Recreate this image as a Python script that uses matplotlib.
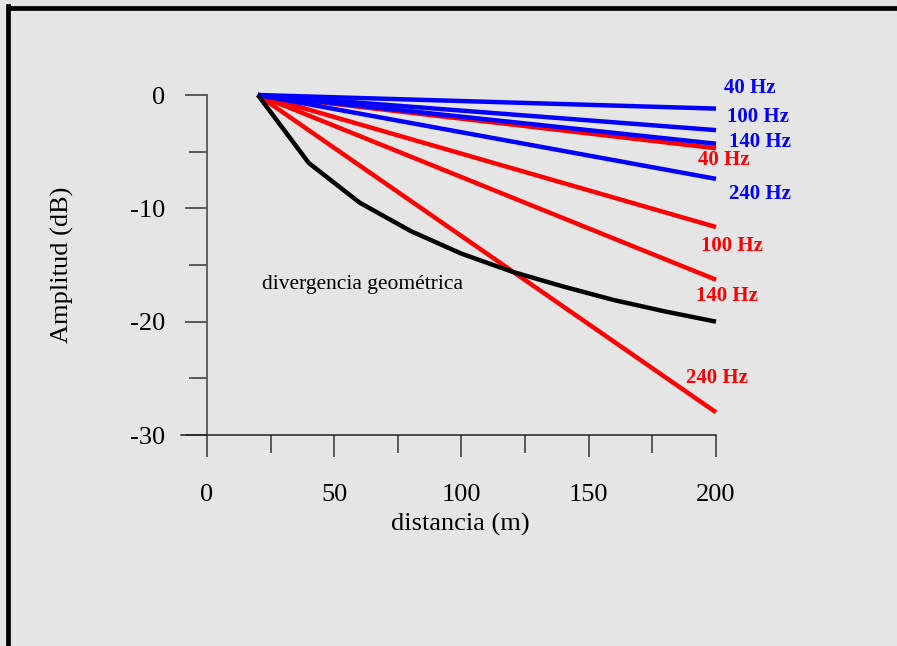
import matplotlib
matplotlib.use('Agg')
import matplotlib.pyplot as plt
from matplotlib.lines import Line2D
from matplotlib.ticker import MultipleLocator

plt.rcParams['font.family'] = ['Liberation Serif', 'DejaVu Serif']
plt.rcParams['axes.unicode_minus'] = False

# distance (m) and amplitude (dB)
x_start, x_end = 20, 200
freqs = ['40 Hz', '100 Hz', '140 Hz', '240 Hz']
blue_end = [-1.2, -3.1, -4.3, -7.4]      # amplitude at 200 m, blue set
red_end = [-4.7, -11.65, -16.3, -28.0]   # amplitude at 200 m, red set

geo_x = [20, 40, 60, 80, 100, 120, 140, 160, 180, 200]
geo_y = [0, -6.0, -9.5, -12.0, -14.0, -15.6, -16.9, -18.1, -19.1, -20.0]

# label anchors (data coords, left edge / vertical centre)
blue_lab = [(203.1, 0.6), (204.3, -1.95), (205.1, -4.15), (205.1, -8.75)]
red_lab = [(192.9, -5.75), (194.1, -13.3), (192.1, -17.7), (188.2, -25.0)]

BG = '#e5e5e5'
fig = plt.figure(figsize=(8.97, 6.46), dpi=100, facecolor=BG)
ax = fig.add_axes([181 / 897, 211 / 646, 535 / 897, 340 / 646])
ax.set_facecolor(BG)

for y1 in red_end:
    ax.plot([x_start, x_end], [0, y1], color='#ff0000', lw=3.2, solid_capstyle='butt', clip_on=False)
for y1 in blue_end:
    ax.plot([x_start, x_end], [0, y1], color='#0000ff', lw=3.2, solid_capstyle='butt', clip_on=False)
ax.plot(geo_x, geo_y, color='black', lw=3.2, solid_capstyle='butt', clip_on=False)

for name, (tx, ty) in zip(freqs, blue_lab):
    ax.text(tx, ty, name, color='#0000ff', fontsize=15, fontweight='bold', ha='left', va='center')
for name, (tx, ty) in zip(freqs, red_lab):
    ax.text(tx, ty, name, color='#ff0000', fontsize=15, fontweight='bold', ha='left', va='center')
ax.text(21.6, -16.7, 'divergencia geométrica', fontsize=15.5, ha='left', va='center')

ax.set_xlim(-10.2, 200)
ax.set_ylim(-30, 0)
ax.spines['top'].set_visible(False)
ax.spines['right'].set_visible(False)
ax.spines['left'].set_position(('data', 0))
ax.spines['left'].set_color('#555555')
ax.spines['bottom'].set_color('#222222')
ax.spines['left'].set_linewidth(1.3)
ax.spines['bottom'].set_linewidth(1.1)

ax.xaxis.set_minor_locator(MultipleLocator(25))
ax.yaxis.set_minor_locator(MultipleLocator(5))
ax.set_xticks([0, 50, 100, 150, 200])
ax.set_yticks([0, -10, -20, -30])
ax.tick_params(which='major', direction='out', length=16, width=1.1, color='#333333',
               labelsize=19)
ax.tick_params(which='minor', direction='out', length=13, width=1.1, color='#333333')
ax.tick_params(axis='x', which='major', pad=19)
ax.tick_params(axis='y', which='major', pad=14)

ax.text(0.523, -0.262, 'distancia (m)', transform=ax.transAxes, fontsize=19,
        ha='center', va='center')
ax.text(-0.222, 0.5, 'Amplitud (dB)', transform=ax.transAxes, fontsize=19,
        rotation=90, ha='center', va='center')

# frame along top and left edge
fig.add_artist(Line2D([8 / 897, 8 / 897], [0, 1 - 6 / 646], transform=fig.transFigure,
                      color='black', lw=3.4, solid_capstyle='projecting'))
fig.add_artist(Line2D([8 / 897, 1], [1 - 8 / 646, 1 - 8 / 646], transform=fig.transFigure,
                      color='black', lw=3.4, solid_capstyle='butt'))

fig.savefig('out.png', dpi=100, facecolor=BG)
